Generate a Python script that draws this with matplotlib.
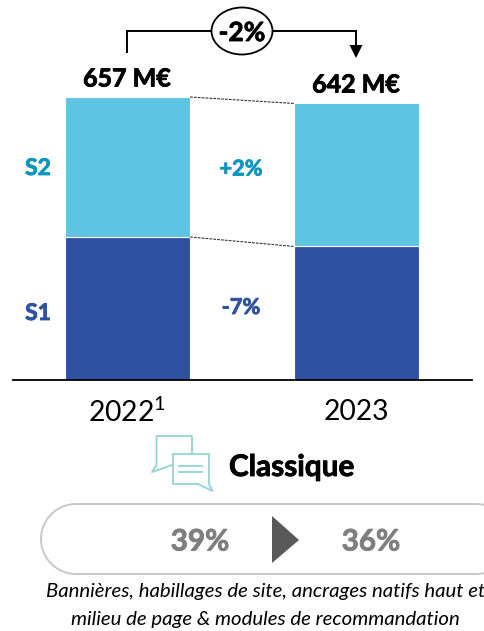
import matplotlib
matplotlib.use("Agg")
import matplotlib.pyplot as plt
import matplotlib.patheffects as pe
import numpy as np
from matplotlib.patches import Ellipse, Polygon

plt.rcParams["font.family"] = ["Lato", "DejaVu Sans"]
plt.rcParams["mathtext.default"] = "regular"

years = ["2022$^{1}$", "2023"]
s1_values = [332, 310]
s2_values = [325, 332]
totals = ["657 M€", "642 M€"]
series_names = ["S1", "S2"]
series_changes = ["-7%", "+2%"]
total_change = "-2%"
share_label = "Classique"
share_values = ["39%", "36%"]
note_lines = ["Bannières, habillages de site, ancrages natifs haut et",
              "milieu de page & modules de recommandation"]

LIGHT = "#5EC4E3"
DARK = "#2E52A0"

fig = plt.figure(figsize=(4.84, 6.31), dpi=100)

# bars: axes runs from the baseline (y=380px) to the top of the figure
ax = fig.add_axes([13 / 484, 1 - 380 / 631, 459 / 484, 380 / 631])
x = [0, 1]
ax.bar(x, s1_values, width=0.546, color=DARK, edgecolor="white", linewidth=0.8)
ax.bar(x, s2_values, width=0.546, bottom=s1_values, color=LIGHT, edgecolor="white", linewidth=0.8)
ax.set_xlim(-0.5, 1.504)
ax.set_ylim(0, 380 * 657 / 283)
ax.set_yticks([])
ax.set_xticks([])
for side in ["top", "left", "right"]:
    ax.spines[side].set_visible(False)
ax.spines["bottom"].set_linewidth(1.3)
ax.patch.set_alpha(0)

# dashed links between the bars
ax.plot([0.273, 0.727], [s1_values[0], s1_values[1]], color="#333333", lw=0.8, ls=(0, (2.5, 1)))
ax.plot([0.273, 0.727], [s1_values[0] + s2_values[0], s1_values[1] + s2_values[1]],
        color="#333333", lw=0.8, ls=(0, (2.5, 1)))

# everything else is placed in pixel coordinates
ov = fig.add_axes([0, 0, 1, 1])
ov.set_xlim(0, 484)
ov.set_ylim(631, 0)
ov.axis("off")
ov.patch.set_alpha(0)


def bold_text(px, py, s, size, color="black", ha="center", zorder=4):
    # Lato bold is lighter than the original font, thicken it a bit
    ov.text(px, py, s, ha=ha, va="center", fontsize=size, fontweight="bold", color=color, zorder=zorder,
            path_effects=[pe.withStroke(linewidth=0.6, foreground=color)])


# total change bracket
ov.plot([127, 127, 356, 356], [52, 31, 31, 46], color="black", lw=1.4, solid_joinstyle="miter")
ov.add_patch(Polygon([[349.5, 45], [362.5, 45], [356, 58]], closed=True, color="black", lw=0))
ov.add_patch(Ellipse((242, 31), 61, 47, facecolor="white", edgecolor="black", lw=1.3, zorder=3))
bold_text(242, 33, total_change, 19)

bold_text(127, 79, totals[0], 18)
bold_text(356, 85, totals[1], 18)

bold_text(38, 168.5, series_names[1], 16.5, "#0E96BE")
bold_text(38, 313.5, series_names[0], 16.5, DARK)
bold_text(241, 169, series_changes[1], 15.7, "#0E96BE")
bold_text(241, 307.5, series_changes[0], 15.7, DARK)

ov.text(127, 412, years[0], ha="center", va="center", fontsize=20.3)
ov.text(356, 412, years[1], ha="center", va="center", fontsize=20.3)

# speech bubble icon
ICON = "#93D4D4"
ov.plot([192, 192, 156.5, 156.5, 152, 172], [454, 436, 436, 465, 472, 465], color=ICON, lw=1.3)
ov.plot([198, 173, 173, 209, 209, 212.5, 198], [484, 484, 454, 454, 484, 491, 484], color=ICON, lw=1.3)
ov.plot([179, 201.5], [465.5, 465.5], color=ICON, lw=1.3)
ov.plot([179, 201.5], [472, 472], color=ICON, lw=1.3)

bold_text(229, 467, share_label, 21.4, ha="left")

# share pill, runs off the right edge
t = np.linspace(0, np.pi, 40)
pill_x = np.concatenate([476 + 35 * np.sin(t), 76 - 35 * np.sin(t), [476]])
pill_y = np.concatenate([539 - 35 * np.cos(t), 539 + 35 * np.cos(t), [504]])
ov.plot(pill_x, pill_y, color="#C8C8C8", lw=1.4)
ov.add_patch(Polygon([[272, 516], [299, 540], [272, 563]], closed=True, color="#595959", lw=0))
bold_text(200, 541.5, share_values[0], 21.3, "#7F7F7F")
bold_text(371, 541.5, share_values[1], 21.3, "#7F7F7F")

ov.text(265.5, 592, note_lines[0], ha="center", va="center", fontsize=14.7, fontstyle="italic")
ov.text(265.5, 620, note_lines[1], ha="center", va="center", fontsize=14.7, fontstyle="italic")

fig.savefig("out.png", dpi=100)
